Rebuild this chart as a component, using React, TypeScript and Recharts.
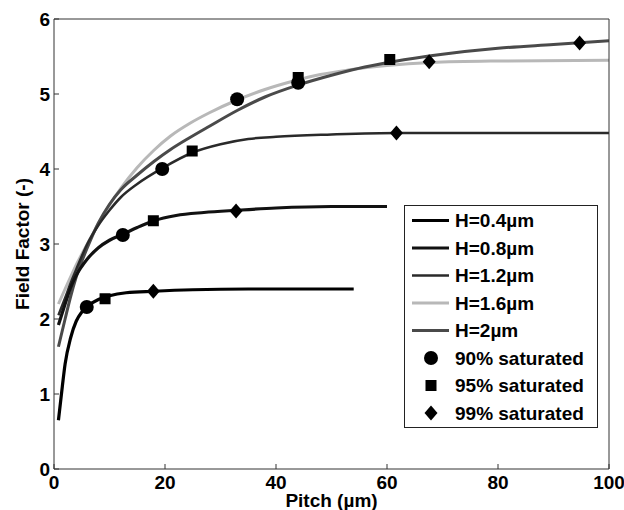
import React from 'react';
import {
  ComposedChart,
  Line,
  Scatter,
  XAxis,
  YAxis,
  Label
} from 'recharts';

// pitch (µm) and field factor for each pillar height
const pitchH04 = [0.8, 1.5, 2, 3, 4, 5, 6, 8, 10, 13, 18, 25, 35, 54];
const ffH04 = [0.65, 1.1, 1.4, 1.75, 1.97, 2.09, 2.17, 2.26, 2.31, 2.35, 2.37, 2.39, 2.4, 2.4];

const pitchH08 = [0.8, 2, 3, 4, 6, 8, 10, 12.4, 15, 18, 22, 27, 33, 40, 50, 60];
const ffH08 = [1.92, 2.2, 2.42, 2.58, 2.8, 2.95, 3.05, 3.13, 3.22, 3.31, 3.38, 3.42, 3.45, 3.48, 3.5, 3.5];

const pitchH12 = [0.8, 2, 3, 4, 6, 8, 10, 12, 15, 19.5, 25, 30, 35, 40, 50, 62, 80, 100];
const ffH12 = [2.05, 2.28, 2.48, 2.66, 3.0, 3.25, 3.45, 3.62, 3.8, 4.01, 4.22, 4.33, 4.4, 4.43, 4.46, 4.48, 4.48, 4.48];

const pitchH16 = [0.8, 2, 3, 4, 6, 8, 10, 12, 15, 18, 21, 24.5, 28, 33, 38, 43, 48, 53, 60, 68, 80, 100];
const ffH16 = [2.2, 2.4, 2.56, 2.72, 3.0, 3.27, 3.52, 3.74, 4.02, 4.25, 4.44, 4.61, 4.75, 4.92, 5.06, 5.17, 5.26, 5.32, 5.38, 5.42, 5.44, 5.45];

const pitchH20 = [0.8, 2, 3, 4, 6, 8, 10, 12, 15, 18, 21, 24.5, 28, 33, 38, 44, 50, 56, 61, 70, 80, 90, 100];
const ffH20 = [1.63, 2.0, 2.3, 2.56, 2.95, 3.28, 3.53, 3.72, 3.92, 4.1, 4.26, 4.42, 4.57, 4.78, 4.96, 5.12, 5.25, 5.36, 5.43, 5.53, 5.61, 5.66, 5.71];

// saturation markers (pitch, field factor)
const pitch90 = [5.9, 12.4, 19.5, 33, 44];
const ff90 = [2.16, 3.12, 4.0, 4.93, 5.15];
const pitch95 = [9.2, 17.9, 24.9, 44, 60.5];
const ff95 = [2.27, 3.31, 4.24, 5.22, 5.46];
const pitch99 = [17.9, 32.8, 61.7, 67.6, 94.7];
const ff99 = [2.37, 3.44, 4.48, 5.43, 5.68];

const xTicks = [0, 20, 40, 60, 80, 100];
const yTicks = [0, 1, 2, 3, 4, 5, 6];

const zip = (xs: number[], ys: number[]) => xs.map((x, i) => ({ x, y: ys[i] }));

const FONT = '"Liberation Sans", Arial, sans-serif';
const tickStyle = { fill: '#000', fontSize: 19, fontWeight: 700, fontFamily: FONT };
const AXIS = '#333';

const curves = [
  { name: 'H=1.6µm', data: zip(pitchH16, ffH16), color: '#b8b8b8', width: 3 },
  { name: 'H=2µm', data: zip(pitchH20, ffH20), color: '#4a4a4a', width: 3 },
  { name: 'H=1.2µm', data: zip(pitchH12, ffH12), color: '#2a2a2a', width: 2.5 },
  { name: 'H=0.8µm', data: zip(pitchH08, ffH08), color: '#111', width: 3.2 },
  { name: 'H=0.4µm', data: zip(pitchH04, ffH04), color: '#000', width: 3.2 }
];

const CircleMark = (p: any) => <circle cx={p.cx} cy={p.cy} r={7} fill="#000" />;
const SquareMark = (p: any) => <rect x={p.cx - 5.5} y={p.cy - 5.5} width={11} height={11} fill="#000" />;
const DiamondMark = (p: any) => (
  <polygon
    points={`${p.cx},${p.cy - 7.5} ${p.cx + 6.5},${p.cy} ${p.cx},${p.cy + 7.5} ${p.cx - 6.5},${p.cy}`}
    fill="#000"
  />
);

const legendRows = [
  { label: 'H=0.4µm', color: '#000', width: 3.2 },
  { label: 'H=0.8µm', color: '#111', width: 3.2 },
  { label: 'H=1.2µm', color: '#2a2a2a', width: 2.5 },
  { label: 'H=1.6µm', color: '#b8b8b8', width: 3 },
  { label: 'H=2µm', color: '#4a4a4a', width: 3 },
  { label: '90% saturated', marker: 'circle' },
  { label: '95% saturated', marker: 'square' },
  { label: '99% saturated', marker: 'diamond' }
];

const ChartLegend = () => (
  <svg
    width={194}
    height={223}
    style={{ position: 'absolute', left: 404, top: 205 }}
  >
    <rect x={0.5} y={0.5} width={193} height={222} fill="#fff" stroke="#222" strokeWidth={1} />
    {legendRows.map((r: any, i) => {
      const cy = 15.5 + i * 27.5;
      let mark;
      if (r.marker === 'circle') mark = <CircleMark cx={27} cy={cy} />;
      else if (r.marker === 'square') mark = <SquareMark cx={27} cy={cy} />;
      else if (r.marker === 'diamond') mark = <DiamondMark cx={27} cy={cy} />;
      else mark = <line x1={8} x2={45} y1={cy} y2={cy} stroke={r.color} strokeWidth={r.width} />;
      return (
        <g key={r.label}>
          {mark}
          <text
            x={51}
            y={cy}
            dy="0.36em"
            fontFamily={FONT}
            fontSize={19}
            fontWeight={700}
            fill="#000"
          >
            {r.label}
          </text>
        </g>
      );
    })}
  </svg>
);

export default function App() {
  return (
    <div style={{ position: 'absolute', left: 0, top: 0, width: 624, height: 510, background: '#fff' }}>
      <ComposedChart width={624} height={510} margin={{ top: 18, right: 14, bottom: 11, left: 10 }}>
        <XAxis
          dataKey="x"
          type="number"
          domain={[0, 100]}
          ticks={xTicks}
          height={30}
          stroke={AXIS}
          tickSize={-5}
          tickMargin={12}
          tick={tickStyle}
          allowDataOverflow
        >
          <Label
            value="Pitch (µm)"
            position="center"
            dy={16}
            style={{ fill: '#000', fontSize: 19, fontWeight: 700, fontFamily: FONT }}
          />
        </XAxis>
        <XAxis
          xAxisId="top"
          orientation="top"
          dataKey="x"
          type="number"
          domain={[0, 100]}
          ticks={xTicks}
          height={1}
          stroke={AXIS}
          tickSize={-5}
          tickFormatter={() => ''}
        />
        <YAxis
          type="number"
          domain={[0, 6]}
          ticks={yTicks}
          width={44}
          stroke={AXIS}
          tickSize={-5}
          tickMargin={9}
          tick={tickStyle}
        >
          <Label
            value="Field Factor (-)"
            position="center"
            angle={-90}
            dx={-10}
            style={{ fill: '#000', fontSize: 19, fontWeight: 700, fontFamily: FONT, textAnchor: 'middle' }}
          />
        </YAxis>
        <YAxis
          yAxisId="right"
          orientation="right"
          type="number"
          domain={[0, 6]}
          ticks={yTicks}
          width={1}
          stroke={AXIS}
          tickSize={-5}
          tickFormatter={() => ''}
        />
        {curves.map((c) => (
          <Line
            key={c.name}
            data={c.data}
            dataKey="y"
            type="monotone"
            stroke={c.color}
            strokeWidth={c.width}
            dot={false}
            isAnimationActive={false}
          />
        ))}
        <Scatter data={zip(pitch90, ff90)} dataKey="y" shape={CircleMark} isAnimationActive={false} />
        <Scatter data={zip(pitch95, ff95)} dataKey="y" shape={SquareMark} isAnimationActive={false} />
        <Scatter data={zip(pitch99, ff99)} dataKey="y" shape={DiamondMark} isAnimationActive={false} />
      </ComposedChart>
      <ChartLegend />
    </div>
  );
}
